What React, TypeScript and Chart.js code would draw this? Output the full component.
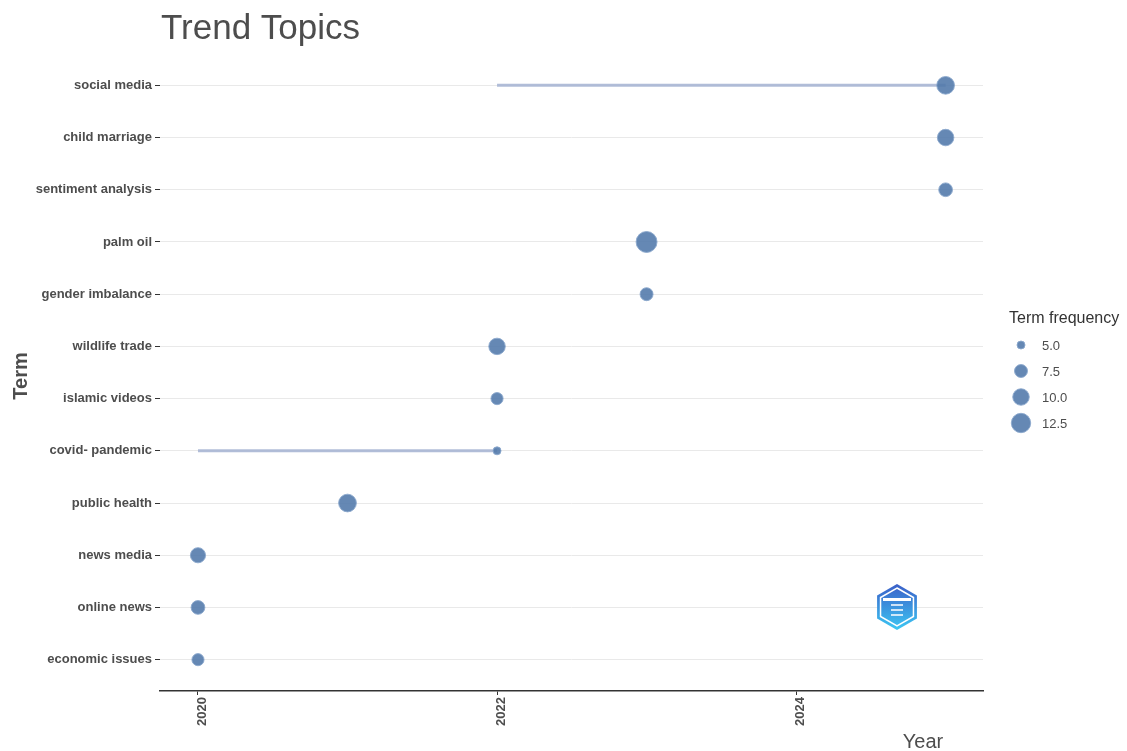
import React, { useEffect, useRef } from "react";
import { Chart, registerables } from "chart.js";

Chart.register(...registerables);

const terms = [
  "social media",
  "child marriage",
  "sentiment analysis",
  "palm oil",
  "gender imbalance",
  "wildlife trade",
  "islamic videos",
  "covid- pandemic",
  "public health",
  "news media",
  "online news",
  "economic issues",
];
const medianYear = [2025, 2025, 2025, 2023, 2023, 2022, 2022, 2022, 2021, 2020, 2020, 2020];
const q1Year = [2022, 2025, 2025, 2023, 2023, 2022, 2022, 2020, 2021, 2020, 2020, 2020];
const q3Year = [2025, 2025, 2025, 2023, 2023, 2022, 2022, 2022, 2021, 2020, 2020, 2020];
const termFreq = [11, 10, 8, 14, 7.5, 10, 7, 5, 11, 9, 8, 7];
const xTicks = [2020, 2022, 2024];
const legendFreq = [5.0, 7.5, 10.0, 12.5];

const radiusOf = (f: number) => Math.sqrt(Math.max(1, -36 + 10.4 * f));

const POINT_FILL = "rgba(80,119,170,0.88)";
const POINT_BORDER = "rgba(140,168,205,0.9)";
const LINE_COLOR = "rgba(168,182,212,0.9)";
const TEXT = "#4d4d4d";
const FONT = '"Liberation Sans", Arial, sans-serif';

const overlayPlugin = {
  id: "overlay",
  afterDraw(chart: any) {
    const ctx = chart.ctx as CanvasRenderingContext2D;
    ctx.save();
    // Title
    ctx.fillStyle = TEXT;
    ctx.font = `35px ${FONT}`;
    ctx.textAlign = "left";
    ctx.textBaseline = "alphabetic";
    ctx.fillText("Trend Topics", 161, 39);

    // X title
    ctx.font = `20px ${FONT}`;
    ctx.textAlign = "center";
    ctx.fillText("Year", 923, 748);

    // Y title
    ctx.save();
    ctx.translate(27, 376);
    ctx.rotate(-Math.PI / 2);
    ctx.font = `bold 20px ${FONT}`;
    ctx.textAlign = "center";
    ctx.fillText("Term", 0, 0);
    ctx.restore();

    // Legend
    ctx.fillStyle = "#333";
    ctx.font = `16px ${FONT}`;
    ctx.textAlign = "left";
    ctx.fillText("Term frequency", 1009, 323);
    legendFreq.forEach((f, i) => {
      const cy = 345 + i * 26;
      ctx.beginPath();
      ctx.arc(1021, cy, radiusOf(f), 0, Math.PI * 2);
      ctx.fillStyle = POINT_FILL;
      ctx.fill();
      ctx.lineWidth = 1;
      ctx.strokeStyle = POINT_BORDER;
      ctx.stroke();
      ctx.fillStyle = TEXT;
      ctx.font = `13px ${FONT}`;
      ctx.textBaseline = "middle";
      ctx.fillText(f.toFixed(1), 1042, cy + 1);
      ctx.textBaseline = "alphabetic";
    });

    // Logo watermark (hexagon)
    const cx = 897, cy = 607, R = 23;
    const hex = (r: number) => {
      ctx.beginPath();
      for (let k = 0; k < 6; k++) {
        const a = -Math.PI / 2 + (k * Math.PI) / 3;
        const px = cx + r * Math.cos(a);
        const py = cy + r * Math.sin(a);
        if (k === 0) ctx.moveTo(px, py);
        else ctx.lineTo(px, py);
      }
      ctx.closePath();
    };
    const g = ctx.createLinearGradient(0, cy - R, 0, cy + R);
    g.addColorStop(0, "#3b5fc8");
    g.addColorStop(1, "#3cc8f4");
    hex(R);
    ctx.fillStyle = g;
    ctx.fill();
    hex(R - 4);
    ctx.strokeStyle = "#ffffff";
    ctx.lineWidth = 1.5;
    ctx.stroke();
    ctx.fillStyle = "#ffffff";
    ctx.fillRect(cx - 14, cy - 9, 28, 3);
    ctx.strokeStyle = "#ffffff";
    ctx.lineWidth = 1.5;
    for (let k = 0; k < 3; k++) {
      ctx.beginPath();
      ctx.moveTo(cx - 6, cy - 2 + k * 5);
      ctx.lineTo(cx + 6, cy - 2 + k * 5);
      ctx.stroke();
    }
    ctx.restore();
  },
};

export default function App() {
  const ref = useRef<HTMLCanvasElement | null>(null);

  useEffect(() => {
    document.body.style.margin = "0";
    if (!ref.current) return;

    const lineSets = terms
      .map((t, i) => ({ i }))
      .filter(({ i }) => q1Year[i] !== q3Year[i])
      .map(({ i }) => ({
        type: "line" as const,
        data: [
          { x: q1Year[i], y: i },
          { x: q3Year[i], y: i },
        ],
        borderColor: LINE_COLOR,
        borderWidth: 3,
        pointRadius: 0,
        order: 2,
      }));

    const chart = new Chart(ref.current, {
      type: "scatter",
      data: {
        datasets: [
          ...lineSets,
          {
            type: "scatter" as const,
            data: terms.map((t, i) => ({ x: medianYear[i], y: i })),
            pointRadius: (c: any) => radiusOf(termFreq[c.dataIndex]),
            backgroundColor: POINT_FILL,
            borderColor: POINT_BORDER,
            borderWidth: 1,
            order: 1,
          },
        ] as any,
      },
      options: {
        animation: false,
        responsive: false,
        devicePixelRatio: 1,
        layout: { padding: { top: 54, right: 144, left: 0, bottom: 0 } },
        plugins: {
          legend: { display: false },
          tooltip: { enabled: false },
          title: { display: false },
        },
        scales: {
          x: {
            type: "linear",
            min: 2019.746,
            max: 2025.25,
            afterBuildTicks: (s: any) => {
              s.ticks = xTicks.map((v) => ({ value: v }));
            },
            afterFit: (s: any) => {
              s.height = 60;
            },
            grid: {
              drawOnChartArea: false,
              drawTicks: true,
              tickLength: 4,
              tickColor: "#333",
              tickWidth: 1,
            },
            border: { display: true, color: "#333", width: 1.5 },
            ticks: {
              minRotation: 90,
              maxRotation: 90,
              padding: 2,
              labelOffset: 4,
              color: TEXT,
              font: { family: FONT, size: 13, weight: "bold" },
              callback: (v: any) => String(v),
            },
          },
          y: {
            type: "linear",
            reverse: true,
            min: -0.6,
            max: 11.6,
            afterBuildTicks: (s: any) => {
              s.ticks = terms.map((t, i) => ({ value: i }));
            },
            afterFit: (s: any) => {
              s.width = 160;
            },
            grid: {
              color: "#e9e9e9",
              lineWidth: 1,
              drawTicks: true,
              tickLength: 5,
              tickColor: "#333",
            },
            border: { display: false },
            ticks: {
              padding: 3,
              color: TEXT,
              font: { family: FONT, size: 13, weight: "bold" },
              callback: (v: any) => terms[Math.round(v)] ?? "",
            },
          },
        },
      },
      plugins: [overlayPlugin],
    });
    return () => chart.destroy();
  }, []);

  return (
    <div style={{ width: 1127, height: 751, background: "#fff" }}>
      <canvas ref={ref} width={1127} height={751} style={{ display: "block" }} />
    </div>
  );
}
